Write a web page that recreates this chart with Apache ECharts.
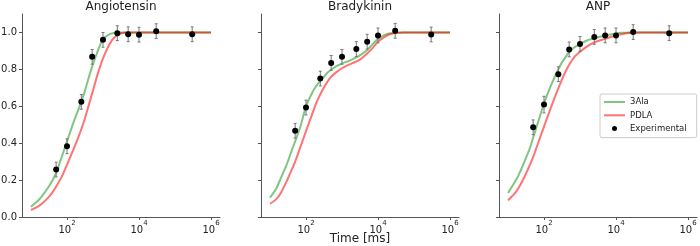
<!DOCTYPE html>
<html>
<head>
<meta charset="utf-8">
<script src="https://cdn.jsdelivr.net/npm/echarts@6/dist/echarts.min.js"></script>
<style>
  html, body { margin: 0; padding: 0; background: #fff; }
  #chart { width: 700px; height: 246px; }
</style>
</head>
<body>
<div id="chart"></div>
<script>
// panel titles
var panelNames = ['Angiotensin', 'Bradykinin', 'ANP'];
var xAxisTitle = 'Time [ms]';

// model curves, time in ms
var fitTimes = [10, 15, 20, 30, 40, 50, 70, 100, 150, 200, 300, 400, 500, 700, 1000, 1500, 2000, 3000, 5000, 7000, 10000, 15000, 20000, 30000, 50000, 1000000];
var ala3Angio = [0.056, 0.085, 0.112, 0.16, 0.2, 0.24, 0.32, 0.41, 0.51, 0.575, 0.67, 0.755, 0.815, 0.895, 0.965, 0.99, 0.997, 1.0, 1.0, 1.0, 1.0, 1.0, 1.0, 1.0, 1.0, 1.0];
var pdlaAngio = [0.038, 0.055, 0.072, 0.105, 0.135, 0.165, 0.215, 0.283, 0.365, 0.425, 0.52, 0.605, 0.67, 0.77, 0.86, 0.935, 0.97, 0.993, 1.0, 1.0, 1.0, 1.0, 1.0, 1.0, 1.0, 1.0];
var ala3Brady = [0.105, 0.155, 0.21, 0.29, 0.36, 0.41, 0.49, 0.60, 0.675, 0.715, 0.755, 0.783, 0.798, 0.817, 0.832, 0.845, 0.856, 0.873, 0.905, 0.935, 0.965, 0.985, 0.994, 0.999, 1.0, 1.0];
var pdlaBrady = [0.072, 0.097, 0.13, 0.20, 0.255, 0.30, 0.38, 0.465, 0.56, 0.625, 0.695, 0.735, 0.76, 0.785, 0.806, 0.824, 0.835, 0.85, 0.886, 0.915, 0.95, 0.975, 0.988, 0.997, 1.0, 1.0];
var ala3Anp = [0.13, 0.185, 0.23, 0.31, 0.37, 0.43, 0.52, 0.615, 0.705, 0.76, 0.83, 0.868, 0.893, 0.92, 0.937, 0.955, 0.963, 0.973, 0.983, 0.989, 0.995, 0.998, 0.999, 1.0, 1.0, 1.0];
var pdlaAnp = [0.09, 0.125, 0.16, 0.225, 0.28, 0.325, 0.405, 0.49, 0.585, 0.65, 0.735, 0.79, 0.825, 0.868, 0.895, 0.922, 0.937, 0.952, 0.965, 0.975, 0.985, 0.992, 0.996, 0.999, 1.0, 1.0];

// experimental points
var expTimes = [50, 100, 250, 500, 1000, 2500, 5000, 10000, 30000, 300000];
var expAngio = [0.257, 0.383, 0.624, 0.868, 0.96, 0.996, 0.99, 0.988, 1.007, 0.99];
var expBrady = [0.467, 0.593, 0.75, 0.835, 0.868, 0.91, 0.95, 0.984, 1.009, 0.989];
var expAnp = [0.486, 0.609, 0.774, 0.908, 0.938, 0.976, 0.984, 0.984, 1.002, 0.996];
var errAngio = [0.04, 0.04, 0.04, 0.04, 0.04, 0.04, 0.04, 0.04, 0.04, 0.04];
var errBrady = [0.04, 0.04, 0.04, 0.04, 0.04, 0.04, 0.04, 0.04, 0.04, 0.04];
var errAnp = [0.04, 0.045, 0.04, 0.04, 0.04, 0.04, 0.04, 0.04, 0.04, 0.04];

// tick labels
var xTickExps = [2, 4, 6];
var yTicks = [0, 0.2, 0.4, 0.6, 0.8, 1.0];

var ala3All = [ala3Angio, ala3Brady, ala3Anp];
var pdlaAll = [pdlaAngio, pdlaBrady, pdlaAnp];
var expAll = [expAngio, expBrady, expAnp];
var errAll = [errAngio, errBrady, errAnp];

var gridLefts = [22, 261, 499];
var axisColor = '#555';
var greenCol = 'rgba(44,160,44,0.6)';
var redCol = 'rgba(255,0,0,0.55)';

function pairs(xs, ys) {
  var out = [];
  for (var i = 0; i < xs.length; i++) {
    out.push([Math.log10(xs[i]), ys[i]]);
  }
  return out;
}

function errItem(params, api) {
  var x = api.value(0), y = api.value(1), e = api.value(2);
  var lo = api.coord([x, y - e]);
  var hi = api.coord([x, y + e]);
  var st = { stroke: '#777', lineWidth: 1 };
  return {
    type: 'group',
    children: [
      { type: 'line', shape: { x1: lo[0], y1: lo[1], x2: hi[0], y2: hi[1] }, style: st },
      { type: 'line', shape: { x1: lo[0] - 1.5, y1: lo[1], x2: lo[0] + 1.5, y2: lo[1] }, style: st },
      { type: 'line', shape: { x1: hi[0] - 1.5, y1: hi[1], x2: hi[0] + 1.5, y2: hi[1] }, style: st }
    ]
  };
}

var grids = [], xAxes = [], yAxes = [], series = [], titles = [];
for (var p = 0; p < 3; p++) {
  grids.push({ left: gridLefts[p], top: 14, width: 198, height: 203, containLabel: false, outerBoundsMode: 'none' });
  titles.push({
    text: panelNames[p],
    left: gridLefts[p] + 99,
    top: 0,
    textAlign: 'center',
    padding: 0,
    textStyle: { fontFamily: 'DejaVu Sans', fontSize: 12, fontWeight: 'normal', color: '#222', lineHeight: 13 }
  });
  xAxes.push({
    type: 'value',
    gridIndex: p,
    min: 0.75,
    max: 6.25,
    splitLine: { show: false },
    axisLine: { onZero: false, lineStyle: { color: axisColor, width: 1 } },
    axisTick: { customValues: xTickExps, length: 3, lineStyle: { color: axisColor } },
    axisLabel: {
      customValues: xTickExps,
      margin: 3,
      formatter: function (v) { return '{b|10}{s|' + Math.round(v) + '}'; },
      rich: {
        b: { fontFamily: 'DejaVu Sans', fontSize: 10, color: '#222', lineHeight: 15, verticalAlign: 'bottom' },
        s: { fontFamily: 'DejaVu Sans', fontSize: 7, color: '#222', lineHeight: 8, verticalAlign: 'top' }
      }
    }
  });
  yAxes.push({
    type: 'value',
    gridIndex: p,
    min: 0,
    max: 1.1,
    splitLine: { show: false },
    axisLine: { show: true, lineStyle: { color: axisColor, width: 1 } },
    axisTick: { show: true, customValues: yTicks, length: 3, lineStyle: { color: axisColor } },
    axisLabel: {
      show: p === 0,
      customValues: yTicks,
      margin: 5,
      fontFamily: 'DejaVu Sans',
      fontSize: 10,
      color: '#222',
      formatter: function (v) { return v.toFixed(1); }
    }
  });
  series.push({
    name: '3Ala', type: 'line', xAxisIndex: p, yAxisIndex: p,
    data: pairs(fitTimes, ala3All[p]),
    symbol: 'none', showSymbol: false, smooth: 0.2,
    lineStyle: { color: greenCol, width: 2 },
    itemStyle: { color: greenCol },
    z: 2
  });
  series.push({
    name: 'PDLA', type: 'line', xAxisIndex: p, yAxisIndex: p,
    data: pairs(fitTimes, pdlaAll[p]),
    symbol: 'none', showSymbol: false, smooth: 0.2,
    lineStyle: { color: redCol, width: 2 },
    itemStyle: { color: redCol },
    z: 3
  });
  var errData = [];
  for (var k = 0; k < expTimes.length; k++) {
    errData.push([Math.log10(expTimes[k]), expAll[p][k], errAll[p][k]]);
  }
  series.push({
    name: 'errbars', type: 'custom', xAxisIndex: p, yAxisIndex: p,
    renderItem: errItem, data: errData, silent: true, z: 4
  });
  series.push({
    name: 'Experimental', type: 'scatter', xAxisIndex: p, yAxisIndex: p,
    data: pairs(expTimes, expAll[p]),
    symbol: 'circle', symbolSize: 6,
    itemStyle: { color: '#000', opacity: 1 },
    z: 5
  });
}

var chart = echarts.init(document.getElementById('chart'), null, { renderer: 'canvas' });
chart.setOption({
  animation: false,
  backgroundColor: '#fff',
  title: titles,
  grid: grids,
  xAxis: xAxes,
  yAxis: yAxes,
  graphic: [{
    type: 'text',
    x: gridLefts[1] + 99,
    y: 239,
    style: {
      text: xAxisTitle,
      fontFamily: 'DejaVu Sans',
      fontSize: 12,
      fill: '#222',
      align: 'center',
      verticalAlign: 'middle'
    }
  }],
  legend: {
    data: [
      { name: '3Ala', icon: 'path://M0,0H21V2H0Z', itemStyle: { color: greenCol } },
      { name: 'PDLA', icon: 'path://M0,0H21V2H0Z', itemStyle: { color: redCol } },
      { name: 'Experimental', icon: 'circle' }
    ],
    orient: 'vertical',
    left: 600,
    top: 94,
    padding: [3, 10, 4, 4],
    itemWidth: 21,
    itemHeight: 5,
    itemGap: 3.3,
    borderColor: '#ccc',
    borderWidth: 1,
    borderRadius: 2,
    backgroundColor: 'rgba(255,255,255,0.8)',
    textStyle: { fontFamily: 'DejaVu Sans', fontSize: 8.5, color: '#222', lineHeight: 10 }
  },
  series: series
});
</script>
</body>
</html>
